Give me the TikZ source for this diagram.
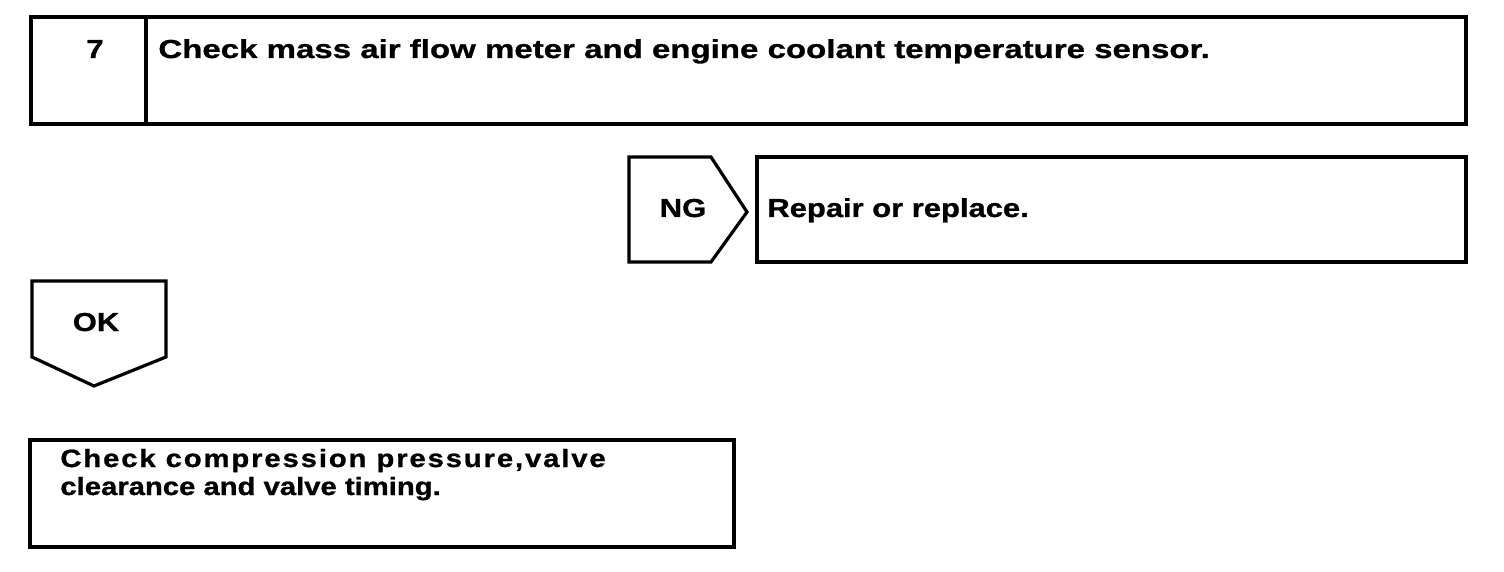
\documentclass[tikz,border=0pt]{standalone}
\usepackage{fontspec}
\setmainfont{Liberation Sans}
\newfontfamily\headfont[FakeStretch=1.27,FakeBold=1]{Liberation Sans}
\newfontfamily\midfont[FakeStretch=1.19,FakeBold=1]{Liberation Sans}
\newfontfamily\lowfont[FakeStretch=1.17,FakeBold=1]{Liberation Sans}
\newfontfamily\widefont[FakeStretch=1.17,FakeBold=1,LetterSpace=7.5]{Liberation Sans}
\usetikzlibrary{positioning}
\tikzset{
  frame/.style={draw=black, line width=1.6pt},
  label/.style={font=\midfont\bfseries\fontsize{13}{15}\selectfont, inner sep=0pt},
  headlabel/.style={font=\headfont\bfseries\fontsize{13}{15}\selectfont, inner sep=0pt},
  lowlabel/.style={font=\lowfont\bfseries\fontsize{12.5}{14}\selectfont, inner sep=0pt, align=left}
}

\begin{document}
\begin{tikzpicture}[x=0.5pt,y=-0.5pt]
  \useasboundingbox (0,0) rectangle (1504,572);
  % step header
  \draw[frame] (31,17) rectangle (1466,124);
  \draw[frame] (146,17) -- (146,124);
  \node[label, anchor=base] (num) at (95,58) {7};
  \node[headlabel, anchor=base west] (check) at (158,58) {Check mass air flow meter and engine coolant temperature sensor.};
  % NG branch
  \draw[frame] (629,157) -- (711,157) -- (747,212) -- (711,262) -- (629,262) -- cycle;
  \node[label, anchor=base] (ng) at (683,217) {NG};
  \draw[frame] (757,157) rectangle (1466,262);
  \node[label, anchor=base west] (repair) at (767,217) {Repair or replace.};
  % OK branch
  \draw[frame] (32,281) -- (166,281) -- (166,357) -- (94,386) -- (32,357) -- cycle;
  \node[label, anchor=base] (ok) at (96,331) {OK};
  \draw[frame] (30,440) rectangle (734,547);
  \node[lowlabel, anchor=base west] (next) at (60,467) {{\widefont Check compression pressure,valve}};
  \node[lowlabel, anchor=base west] (next2) at (60,495) {clearance and valve timing.};
\end{tikzpicture}
\end{document}
